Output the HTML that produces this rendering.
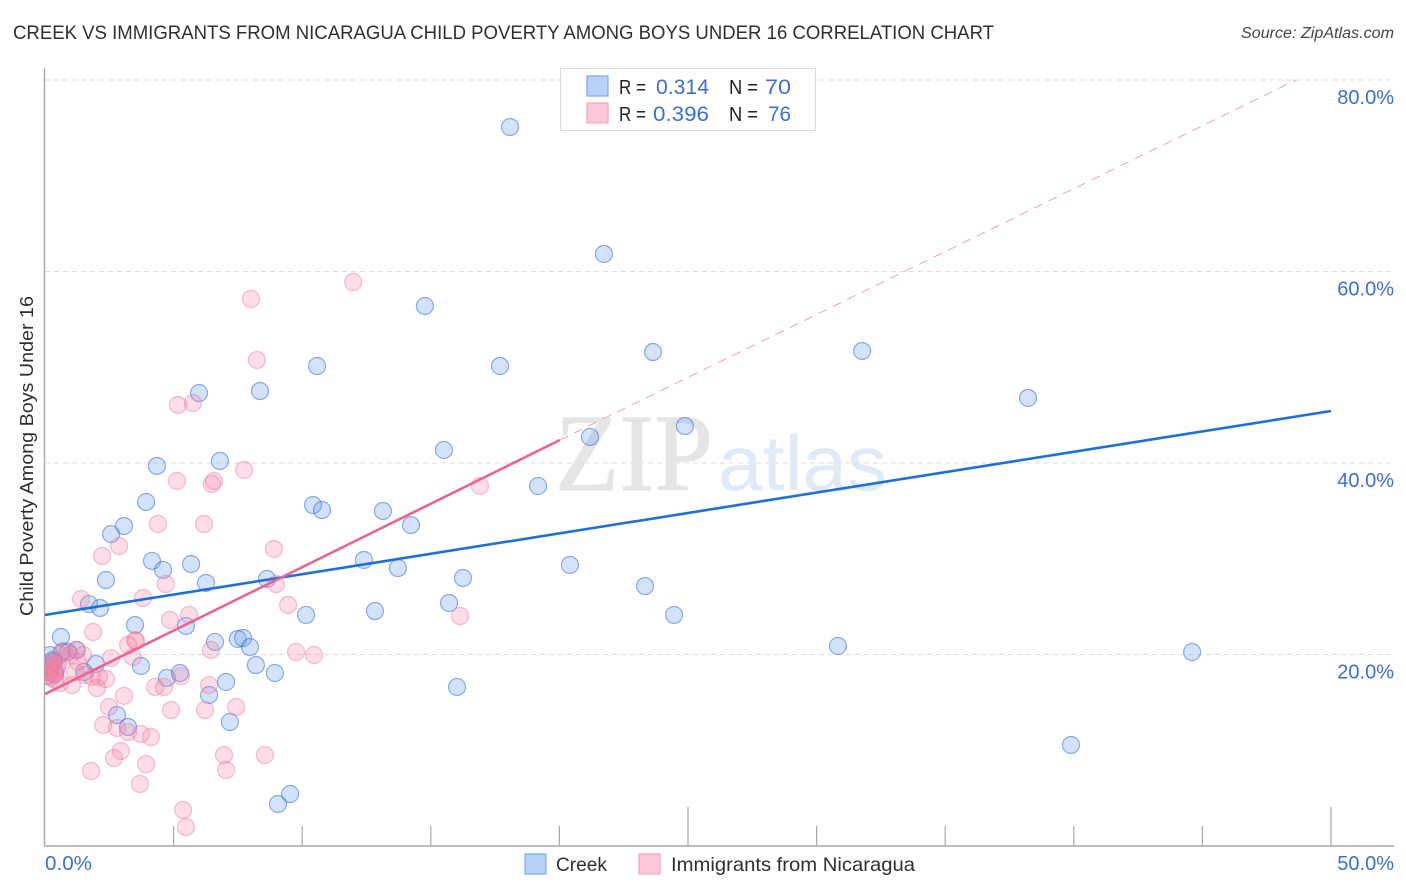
<!DOCTYPE html>
<html lang="en">
<head>
<meta charset="utf-8">
<title>Creek vs Immigrants from Nicaragua Child Poverty Among Boys Under 16 Correlation Chart</title>
<style>
html,body{margin:0;padding:0;background:#fff;width:1406px;height:892px;overflow:hidden}
svg{display:block;font-family:"Liberation Sans",sans-serif}
</style>
</head>
<body>
<svg id="chart" width="1406" height="892" viewBox="0 0 1406 892" xmlns="http://www.w3.org/2000/svg">
  <defs>
    <clipPath id="plot-clip"><rect x="45" y="60" width="1349" height="786"/></clipPath>
  </defs>
  <rect x="0" y="0" width="1406" height="892" fill="#fff"/>
  <text x="13" y="39" font-size="19.5" fill="#2f2f2f" textLength="981" lengthAdjust="spacingAndGlyphs">CREEK VS IMMIGRANTS FROM NICARAGUA CHILD POVERTY AMONG BOYS UNDER 16 CORRELATION CHART</text>
  <text x="1241" y="38" font-size="15.5" font-style="italic" fill="#444" textLength="153" lengthAdjust="spacingAndGlyphs">Source: ZipAtlas.com</text>
  <g id="grid"></g>
  <g>
    <text x="555" y="490" font-family="'Liberation Serif',serif" font-size="110" fill="#e5e5e5" stroke="#e5e5e5" stroke-width="1" textLength="158" lengthAdjust="spacingAndGlyphs">ZIP</text>
    <text x="718" y="490" font-size="78" fill="#dfe9f8" textLength="169" lengthAdjust="spacingAndGlyphs">atlas</text>
  </g>
  <g id="axes"></g>
  <g clip-path="url(#plot-clip)">
    <g id="points-creek"></g>
    <g id="points-nicaragua"></g>
    <g id="trends"></g>
  </g>
  <text transform="translate(33,456) rotate(-90)" font-size="18" fill="#2f2f2f" text-anchor="middle" textLength="320" lengthAdjust="spacingAndGlyphs">Child Poverty Among Boys Under 16</text>
  <g>
    <rect x="560.5" y="68.5" width="255" height="62" fill="#fff" stroke="#dcdcdc" stroke-width="1"/>
    <rect x="587" y="76" width="21" height="20" fill="#b6d2f8" stroke="#7eaae6" stroke-width="1.2"/>
    <rect x="587" y="103" width="21" height="20" fill="#fcc8d9" stroke="#f2a6c0" stroke-width="1.2"/>
    <g font-size="20" fill="#222">
      <text x="619" y="94" textLength="27" lengthAdjust="spacingAndGlyphs">R =</text>
      <text x="729" y="94" textLength="29" lengthAdjust="spacingAndGlyphs">N =</text>
      <text x="619" y="121" textLength="27" lengthAdjust="spacingAndGlyphs">R =</text>
      <text x="729" y="121" textLength="29" lengthAdjust="spacingAndGlyphs">N =</text>
    </g>
    <g font-size="21.5" fill="#3b70d2">
      <text x="656" y="94" textLength="53" lengthAdjust="spacingAndGlyphs">0.314</text>
      <text x="765" y="94" textLength="26" lengthAdjust="spacingAndGlyphs">70</text>
      <text x="653" y="121" textLength="56" lengthAdjust="spacingAndGlyphs">0.396</text>
      <text x="768" y="121" textLength="23" lengthAdjust="spacingAndGlyphs">76</text>
    </g>
  </g>
  <g>
    <rect x="525" y="854" width="21" height="20" fill="#b6d2f8" stroke="#7eaae6" stroke-width="1.2"/>
    <text x="556" y="871" font-size="19.5" fill="#2f2f2f" textLength="51" lengthAdjust="spacingAndGlyphs">Creek</text>
    <rect x="639" y="854" width="21" height="20" fill="#fcc8d9" stroke="#f2a6c0" stroke-width="1.2"/>
    <text x="671" y="871" font-size="19.5" fill="#2f2f2f" textLength="244" lengthAdjust="spacingAndGlyphs">Immigrants from Nicaragua</text>
  </g>
</svg>
<script>
const yTickValues = [20, 40, 60, 80];
const yTickLabels = ["20.0%", "40.0%", "60.0%", "80.0%"];
const xTickValues = [5, 10, 15, 20, 25, 30, 35, 40, 45, 50];
const xTickMajor = [25, 50];
const xEndLabels = ["0.0%", "50.0%"];
const creekX = [18.08,21.73,14.77,10.58,17.69,23.64,31.77,38.22,5.99,8.36,24.88,15.51,21.19,6.80,4.35,19.17,3.93,10.42,10.77,13.14,14.23,3.07,2.57,12.40,4.16,5.68,4.59,13.72,20.41,16.25,2.37,6.26,8.63,23.33,1.71,2.14,15.71,12.83,10.15,24.46,5.48,3.50,0.62,6.61,7.50,7.70,7.97,30.83,44.60,1.24,0.89,0.66,0.19,8.20,3.73,1.98,8.94,4.74,5.25,7.04,16.02,6.38,1.52,7.19,2.80,3.23,39.89,9.53,9.06,0.35,0.20,0.40,0.30,0.10];
const creekY = [75.09,61.83,56.40,50.13,50.13,51.59,51.70,46.79,47.31,47.52,43.86,41.36,42.72,40.21,39.69,37.60,35.93,35.61,35.09,34.99,33.52,33.42,32.58,29.87,29.77,29.45,28.83,29.03,29.35,27.99,27.78,27.47,27.89,27.15,25.27,24.86,25.38,24.54,24.13,24.13,22.98,23.08,21.83,21.31,21.62,21.72,20.78,20.89,20.26,20.47,20.26,20.26,19.95,18.90,18.80,19.01,18.07,17.55,18.07,17.13,16.61,15.77,18.17,12.95,13.68,12.43,10.55,5.43,4.39,19.22,18.60,18.00,19.40,17.80];
const nicaraguaX = [11.98,8.01,8.24,5.17,5.75,7.74,5.13,6.49,6.57,16.91,4.39,6.18,2.88,8.90,2.22,4.70,8.98,1.40,3.81,9.45,5.60,4.86,16.14,1.87,3.54,3.50,3.23,6.45,9.76,10.46,1.21,0.74,1.48,2.57,3.42,1.28,0.27,0.47,0.35,0.19,0.58,1.05,1.56,1.83,2.10,2.37,2.02,4.28,4.63,5.29,6.38,3.07,2.49,4.90,6.22,7.43,2.26,2.80,3.23,3.73,4.12,2.95,2.68,6.96,8.55,3.93,7.04,1.79,3.69,5.37,5.48,0.12,0.39,0.58,0.97,1.17,0.30,0.40,0.20,0.50,0.15,0.35];
const nicaraguaY = [58.90,57.13,50.76,46.06,46.27,39.27,38.12,37.81,38.12,37.60,33.63,33.63,31.33,31.02,30.29,27.36,27.36,25.80,25.90,25.17,24.13,23.60,24.02,22.35,21.41,21.51,20.99,20.47,20.26,19.95,20.47,20.37,19.95,19.63,19.74,19.22,18.90,18.59,18.17,18.07,17.02,16.81,17.86,17.65,17.65,17.44,16.50,16.61,16.61,17.75,16.81,15.67,14.52,14.20,14.20,14.52,12.64,12.32,11.91,11.70,11.38,9.92,9.19,9.50,9.50,8.56,7.94,7.83,6.48,3.76,1.98,18.17,17.34,19.95,19.95,18.17,19.20,18.40,17.60,19.00,18.80,17.90];
const creekTrendX = [0, 50];
const creekTrendY = [24.13, 45.43];
const nicaraguaSolidX = [0, 20.02];
const nicaraguaSolidY = [15.87, 42.40];
const nicaraguaDashX = [20.02, 48.64];
const nicaraguaDashY = [42.40, 80];

const NS = 'http://www.w3.org/2000/svg';
const xScale = v => 45 + v * 25.72;
const yScale = v => 846 - v * 9.575;
function make(tag, attrs, parent, text) {
  const el = document.createElementNS(NS, tag);
  for (const k in attrs) el.setAttribute(k, attrs[k]);
  if (text !== undefined) el.textContent = text;
  parent.appendChild(el);
  return el;
}
const grid = document.getElementById('grid');
const axes = document.getElementById('axes');
yTickValues.forEach((v, i) => {
  const line = make('line', {x1: 45, x2: 1394, y1: yScale(v), y2: yScale(v), stroke: '#dedede', 'stroke-width': 1, 'stroke-dasharray': '5 4'}, grid);
  
  
  const label = make('text', {x: 1394, y: yScale(v) + 24, 'font-size': 20, fill: '#3b70d2', 'text-anchor': 'end'}, axes, yTickLabels[i]);
  
  
});
const yAxis = make('line', {x1: 44.5, x2: 44.5, y1: 68, y2: 846, stroke: '#a8a8a8', 'stroke-width': 1.4}, axes);


const xAxis = make('line', {x1: 44, x2: 1394, y1: 846, y2: 846, stroke: '#a8a8a8', 'stroke-width': 1.4}, axes);


xTickValues.forEach(v => {
  const h = xTickMajor.includes(v) ? 39 : 20;
  const tick = make('line', {x1: xScale(v), x2: xScale(v), y1: 846 - h, y2: 846, stroke: '#a8a8a8', 'stroke-width': 1.2}, axes);
  
  
});
const xLabelLeft = make('text', {x: xScale(0), y: 870, 'font-size': 20, fill: '#3b70d2', textLength: 47, lengthAdjust: 'spacingAndGlyphs'}, axes, xEndLabels[0]);


const xLabelRight = make('text', {x: 1394, y: 870, 'font-size': 20, fill: '#3b70d2', 'text-anchor': 'end'}, axes, xEndLabels[1]);



const creekGroup = document.getElementById('points-creek');
creekX.forEach((x, i) => {
  const c = make('circle', {cx: xScale(x), cy: yScale(creekY[i]), r: 8.5, fill: 'rgba(96,152,235,0.27)', stroke: 'rgba(52,112,212,0.55)', 'stroke-width': 1.2}, creekGroup);
  
  
});
const nicaraguaGroup = document.getElementById('points-nicaragua');
nicaraguaX.forEach((x, i) => {
  const c = make('circle', {cx: xScale(x), cy: yScale(nicaraguaY[i]), r: 8.5, fill: 'rgba(246,134,168,0.27)', stroke: 'rgba(236,112,152,0.45)', 'stroke-width': 1.2}, nicaraguaGroup);
  
  
});
const trends = document.getElementById('trends');
const creekTrend = make('line', {x1: xScale(creekTrendX[0]), y1: yScale(creekTrendY[0]), x2: xScale(creekTrendX[1]), y2: yScale(creekTrendY[1]), stroke: '#1f6fd8', 'stroke-width': 2.6}, trends);


const nicaraguaSolid = make('line', {x1: xScale(nicaraguaSolidX[0]), y1: yScale(nicaraguaSolidY[0]), x2: xScale(nicaraguaSolidX[1]), y2: yScale(nicaraguaSolidY[1]), stroke: '#ea6490', 'stroke-width': 2.6}, trends);


const nicaraguaDash = make('line', {x1: xScale(nicaraguaDashX[0]), y1: yScale(nicaraguaDashY[0]), x2: xScale(nicaraguaDashX[1]), y2: yScale(nicaraguaDashY[1]), stroke: '#e9a3ba', 'stroke-width': 1, 'stroke-dasharray': '9 7'}, trends);


</script>
</body>
</html>
